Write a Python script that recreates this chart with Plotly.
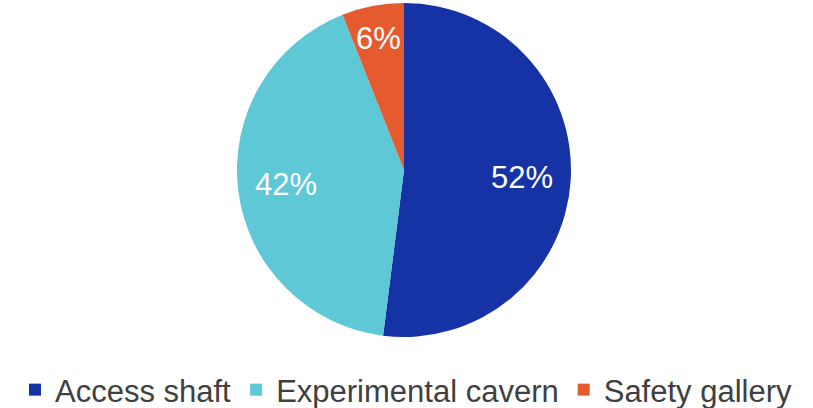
import math
import plotly.graph_objects as go

labels = ["Access shaft", "Experimental cavern", "Safety gallery"]
values = [52, 42, 6]
colors = ["#1633a6", "#5ec8d6", "#e65a30"]
label_radius = [0.71, 0.71, 0.80]   # fraction of pie radius for percent labels

W, H = 813, 408
cx, cy, r = 404, 170, 167

fig = go.Figure(go.Pie(
    labels=labels, values=values, sort=False, direction="clockwise", rotation=0,
    marker=dict(colors=colors, line=dict(color="white", width=0)),
    textinfo="none",
    domain=dict(x=[(cx - r) / W, (cx + r) / W], y=[1 - (cy + r) / H, 1 - (cy - r) / H]),
    hoverinfo="label+percent",
))

total = sum(values)
cum = 0
for v, f in zip(values, label_radius):
    mid = (cum + v / 2) / total * 2 * math.pi
    cum += v
    x = cx + f * r * math.sin(mid)
    y = cy - f * r * math.cos(mid)
    fig.add_annotation(
        x=x / W, y=1 - y / H, xref="paper", yref="paper", showarrow=False,
        text=f"{round(v / total * 100)}%",
        font=dict(color="white", size=31, family="Liberation Sans, Arial"),
        xanchor="center", yanchor="middle",
    )

fig.update_layout(
    width=W, height=H, margin=dict(l=0, r=0, t=0, b=0, autoexpand=False),
    paper_bgcolor="white", plot_bgcolor="white",
    showlegend=True,
    legend=dict(orientation="h", x=0.5, xanchor="center", y=(H - 390) / H, yanchor="middle",
                font=dict(size=31, color="#404040", family="Liberation Sans, Arial"),
                itemwidth=30, tracegroupgap=0),
    font=dict(family="Liberation Sans, Arial"),
)
fig.write_html("out.html")
